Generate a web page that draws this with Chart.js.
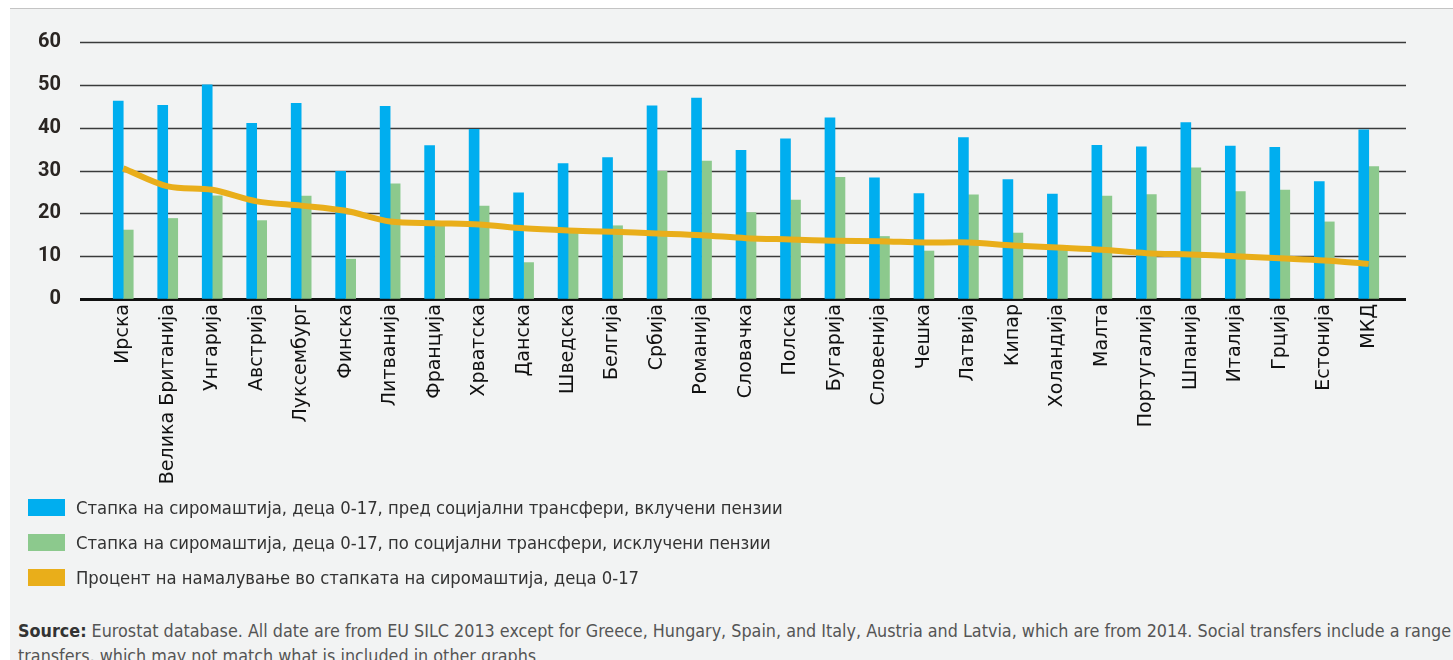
<!DOCTYPE html>
<html>
<head>
<meta charset="utf-8">
<script src="https://cdn.jsdelivr.net/npm/chart.js@4"></script>
<style>
  html, body { margin: 0; padding: 0; background: #fff; width: 1453px; height: 660px; overflow: hidden; }
  #panel { position: absolute; left: 10px; top: 8px; width: 1443px; height: 652px; background: #f2f3f3; border-top: 1px solid #c4c4c4; }
  #statChart { position: absolute; left: 0; top: 0; }
  #legend { position: absolute; left: 18px; top: 481px; }
  .row { height: 35px; display: flex; align-items: center; font-family: "DejaVu Sans Condensed", "Liberation Sans Narrow", sans-serif; font-size: 18.3px; color: #333; }
  .sw { width: 37px; height: 17px; margin-right: 11px; }
  #source { position: absolute; left: 8px; top: 609px; font-family: "DejaVu Sans Condensed", "Liberation Sans Narrow", sans-serif; font-size: 17.8px; color: #555; line-height: 25px; white-space: nowrap; }
  #source b { color: #333; }
</style>
</head>
<body>
<div id="panel">
  <canvas id="statChart" width="1443" height="489"></canvas>
  <div id="legend"></div>
  <div id="source"><b>Source:</b> Eurostat database. All date are from EU SILC 2013 except for Greece, Hungary, Spain, and Italy, Austria and Latvia, which are from 2014. Social transfers include a range of<br>transfers, which may not match what is included in other graphs</div>
</div>
<script>
// ---- data ----
const countries = ['Ирска', 'Велика Британија', 'Унгарија', 'Австрија', 'Луксембург', 'Финска', 'Литванија',
  'Франција', 'Хрватска', 'Данска', 'Шведска', 'Белгија', 'Србија', 'Романија', 'Словачка', 'Полска',
  'Бугарија', 'Словенија', 'Чешка', 'Латвија', 'Кипар', 'Холандија', 'Малта', 'Португалија', 'Шпанија',
  'Италија', 'Грција', 'Естонија', 'МКД'];
const beforeTransfers = [46.2, 45.2, 50.0, 41.0, 45.7, 29.8, 45.0, 35.8, 39.6, 24.8, 31.6, 33.0, 45.1, 46.9,
  34.7, 37.4, 42.3, 28.3, 24.6, 37.7, 27.9, 24.5, 35.9, 35.5, 41.2, 35.7, 35.4, 27.4, 39.5];
const afterTransfers = [16.1, 18.8, 24.1, 18.3, 24.0, 9.3, 26.9, 17.5, 21.7, 8.5, 15.8, 17.1, 29.8, 32.2,
  20.2, 23.1, 28.4, 14.6, 11.2, 24.3, 15.4, 12.0, 24.0, 24.4, 30.6, 25.1, 25.4, 18.0, 30.9];
const reductionPct = [30.5, 26.3, 25.5, 22.8, 21.8, 20.6, 18.1, 17.7, 17.4, 16.5, 16.0, 15.7, 15.3, 14.9,
  14.2, 13.9, 13.6, 13.5, 13.2, 13.2, 12.5, 12.0, 11.5, 10.7, 10.4, 10.0, 9.5, 9.0, 8.2];
const yTicks = [0, 10, 20, 30, 40, 50, 60];

const seriesLabels = [
  'Стапка на сиромаштија, деца 0-17, пред социјални трансфери, вклучени пензии',
  'Стапка на сиромаштија, деца 0-17, по социјални трансфери, исклучени пензии',
  'Процент на намалување во стапката на сиромаштија, деца 0-17'
];
const seriesColors = ['#00aeef', '#8cc98d', '#e9ae1a'];

// ---- horizontal grid lines that run a bit past the plot area ----
const gridPlugin = {
  id: 'wideGrid',
  beforeDatasetsDraw(chart) {
    const { ctx, chartArea, scales } = chart;
    const y = scales.y;
    ctx.save();
    yTicks.forEach(v => {
      const py = Math.round(y.getPixelForValue(v));
      ctx.beginPath();
      ctx.lineWidth = v === 0 ? 3 : 1.5;
      ctx.strokeStyle = v === 0 ? '#111' : '#3a3a3a';
      ctx.moveTo(chartArea.left - 21, py + 0.5);
      ctx.lineTo(chartArea.right + 15, py + 0.5);
      ctx.stroke();
    });
    ctx.restore();
  }
};

const canvas = document.getElementById('statChart');
new Chart(canvas.getContext('2d'), {
  type: 'bar',
  data: {
    labels: countries,
    datasets: [
      {
        type: 'line',
        label: seriesLabels[2],
        data: reductionPct,
        borderColor: seriesColors[2],
        borderWidth: 6,
        pointRadius: 0,
        tension: 0.3,
        fill: false,
        order: 0
      },
      {
        label: seriesLabels[0],
        data: beforeTransfers,
        backgroundColor: seriesColors[0],
        barThickness: 10,
        categoryPercentage: 0.585,
        order: 1
      },
      {
        label: seriesLabels[1],
        data: afterTransfers,
        backgroundColor: seriesColors[1],
        barThickness: 10,
        categoryPercentage: 0.585,
        order: 1
      }
    ]
  },
  options: {
    responsive: false,
    animation: false,
    layout: { padding: { top: 33, right: 62, left: 0, bottom: 0 } },
    plugins: {
      legend: { display: false },
      tooltip: { enabled: false }
    },
    scales: {
      x: {
        grid: { display: false, drawTicks: false },
        border: { display: false },
        afterFit: s => { s.height = 199; },
        ticks: {
          autoSkip: false,
          minRotation: 90,
          maxRotation: 90,
          padding: 5,
          color: '#111',
          font: { family: 'DejaVu Sans', size: 19 }
        }
      },
      y: {
        min: 0,
        max: 60,
        // invisible tick marks push the labels left without adding vertical padding
        grid: { display: true, drawOnChartArea: false, drawTicks: true, tickLength: 30, color: 'rgba(0,0,0,0)' },
        border: { display: false },
        afterFit: s => { s.width = 91; },
        ticks: {
          stepSize: 10,
          padding: 10,
          color: '#2a2522',
          font: { family: 'Roboto', size: 20, weight: 'bold' }
        }
      }
    }
  },
  plugins: [gridPlugin]
});

// ---- legend (vertical, below the chart) ----
const legendOrder = [0, 1, 2];
const legendBox = document.getElementById('legend');
legendOrder.forEach(i => {
  const row = document.createElement('div');
  row.className = 'row';
  row.innerHTML = `<span class="sw" style="background:${seriesColors[i]}"></span><span>${seriesLabels[i]}</span>`;
  legendBox.appendChild(row);
});
</script>
</body>
</html>
